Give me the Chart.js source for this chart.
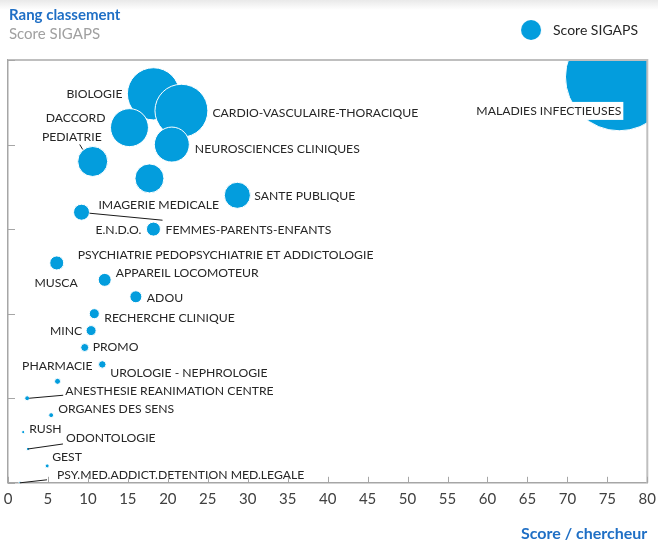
<!DOCTYPE html>
<html>
<head>
<meta charset="utf-8">
<script src="https://cdn.jsdelivr.net/npm/chart.js@4"></script>
<style>
  body { margin: 0; background: linear-gradient(#e9e9e9 0px, #ffffff 10px); font-family: Lato, sans-serif; }
  #wrap { position: relative; width: 658px; height: 545px; }
  #titles { position: absolute; left: 9px; top: 5px; line-height: 19px; font-size: 15px; }
  #titles .main { color: #1f6fc5; font-weight: bold; }
  #titles .sub { color: #a0a0a0; }
  canvas { position: absolute; left: 0; top: 0; }
</style>
</head>
<body>
<div id="wrap">
  <canvas id="chart" width="658" height="545"></canvas>
  <div id="titles">
    <div class="main">Rang classement</div>
    <div class="sub">Score SIGAPS</div>
  </div>
</div>
<script>
// pôles / services
const categories = [
  "MALADIES INFECTIEUSES", "BIOLOGIE", "CARDIO-VASCULAIRE-THORACIQUE", "DACCORD",
  "NEUROSCIENCES CLINIQUES", "PEDIATRIE", "IMAGERIE MEDICALE", "SANTE PUBLIQUE",
  "FEMMES-PARENTS-ENFANTS", "E.N.D.O.", "PSYCHIATRIE PEDOPSYCHIATRIE ET ADDICTOLOGIE", "MUSCA",
  "APPAREIL LOCOMOTEUR", "ADOU", "RECHERCHE CLINIQUE", "MINC", "PROMO",
  "UROLOGIE - NEPHROLOGIE", "PHARMACIE", "ANESTHESIE REANIMATION CENTRE", "ORGANES DES SENS",
  "RUSH", "ODONTOLOGIE", "GEST", "PSY.MED.ADDICT.DETENTION MED.LEGALE"
];
// score / chercheur (axe x)
const scoreParChercheur = [
  76.5, 18.2, 21.7, 15.2, 20.5, 10.6, 17.7, 28.7, 9.2, 18.2, 6.1, 6.1,
  12.1, 16.0, 10.8, 10.4, 9.6, 11.8, 6.2, 2.4, 5.4, 1.9, 2.5, 4.9, 1.5
];
// rang classement (axe y)
const rang = [
  1, 2, 3, 4, 5, 6, 7, 8, 9, 10, 12, 12,
  13, 14, 15, 16, 17, 18, 19, 20, 21, 22, 23, 24, 25
];
// score SIGAPS (taille des bulles)
const scoreSigaps = [
  2900, 680, 700, 360, 306, 225, 210, 170, 64, 49, 49, 49,
  42, 36, 25, 25, 16, 14, 9, 6, 6, 2.5, 2.5, 4, 1.5
];

// position des étiquettes : [dx, dy, alignement, ligne de rappel]
const labelPlacement = [
  [2, 34, "right", null],
  [-31, 0, "right", null],
  [31, 2, "left", null],
  [-24, -10, "right", null],
  [23, 5, "left", null],
  [9, -24, "right", [-10, -12, -13, -17]],
  [-51, 27, "left", null],
  [17, 1, "left", null],
  [84, 18, "left", [8, 1, 81, 8]],
  [-12, 1, "right", null],
  [21, -8, "left", null],
  [21, 20, "right", null],
  [11, -7, "left", null],
  [11, 1, "left", null],
  [10, 4, "left", null],
  [-9, 0, "right", null],
  [8, 0, "left", null],
  [8, 9, "left", null],
  [35, -15, "right", null],
  [38, -7, "left", [2, 0, 36, -3]],
  [7, -6, "left", null],
  [6, -3, "left", null],
  [38, -11, "left", [0, 0, 35, -5]],
  [5, -9, "left", null],
  [37, -8, "left", [0, 0, 27, -3]]
];

const bubbleColor = "#039ddd";

const bubbleData = categories.map((name, i) => ({
  x: scoreParChercheur[i],
  y: rang[i],
  r: Math.sqrt(scoreSigaps[i])
}));

// pastille de légende, décalée vers la gauche
const legendDot = document.createElement("canvas");
legendDot.width = 40;
legendDot.height = 22;
{
  const c = legendDot.getContext("2d");
  c.fillStyle = bubbleColor;
  c.beginPath();
  c.arc(12, 11, 10, 0, Math.PI * 2);
  c.fill();
}

const labelPlugin = {
  id: "bubbleLabels",
  beforeLayout(chart) {
    // laisse de la place entre la légende et la zone du graphique
    const lg = chart.legend;
    if (lg && !lg._extraSpace) {
      const fit = lg.fit.bind(lg);
      lg.fit = function () { fit(); this.height += 13; };
      lg._extraSpace = true;
    }
  },
  afterDatasetsDraw(chart) {
    const ctx = chart.ctx;
    const meta = chart.getDatasetMeta(0);
    ctx.save();
    ctx.font = "12.2px Lato";
    ctx.textBaseline = "middle";
    meta.data.forEach((pt, i) => {
      const [dx, dy, align, line] = labelPlacement[i];
      const tx = pt.x + dx;
      const ty = pt.y + dy;
      if (line) {
        ctx.strokeStyle = "#1a1a1a";
        ctx.lineWidth = 1;
        ctx.beginPath();
        ctx.moveTo(pt.x + line[0], pt.y + line[1]);
        ctx.lineTo(pt.x + line[2], pt.y + line[3]);
        ctx.stroke();
      }
      ctx.textAlign = align;
      if (i === 0) {
        const w = ctx.measureText(categories[i]).width;
        ctx.fillStyle = "#ffffff";
        ctx.fillRect(tx - w - 2, ty - 9, w + 4, 18);
      }
      ctx.fillStyle = "#262626";
      ctx.fillText(categories[i], tx, ty);
    });
    ctx.restore();
  },
  afterDraw(chart) {
    const ctx = chart.ctx;
    const area = chart.chartArea;
    const xs = chart.scales.x;
    const ys = chart.scales.y;
    ctx.save();
    // cadre haut et droit
    ctx.strokeStyle = "#bfbfbf";
    ctx.lineWidth = 2;
    ctx.beginPath();
    ctx.moveTo(area.left, area.top);
    ctx.lineTo(area.right, area.top);
    ctx.lineTo(area.right, area.bottom);
    ctx.stroke();
    // graduations vers l'intérieur
    ctx.strokeStyle = "#a6a6a6";
    ctx.lineWidth = 1;
    ctx.beginPath();
    xs.ticks.forEach((t) => {
      const px = Math.round(xs.getPixelForValue(t.value)) + 0.5;
      ctx.moveTo(px, area.bottom);
      ctx.lineTo(px, area.bottom - 6);
    });
    ys.ticks.forEach((t) => {
      const py = Math.round(ys.getPixelForValue(t.value)) + 0.5;
      ctx.moveTo(area.left, py);
      ctx.lineTo(area.left + 7, py);
    });
    ctx.stroke();
    ctx.restore();
  }
};

new Chart(document.getElementById("chart"), {
  type: "bubble",
  data: {
    datasets: [{
      label: "Score SIGAPS",
      data: bubbleData,
      backgroundColor: bubbleColor,
      borderColor: "#ffffff",
      borderWidth: 1,
      hoverBorderWidth: 1
    }]
  },
  options: {
    responsive: false,
    animation: false,
    layout: { autoPadding: false, padding: { top: 3, left: 8, right: 0, bottom: 0 } },
    plugins: {
      tooltip: { enabled: false },
      legend: {
        position: "top",
        align: "end",
        labels: {
          usePointStyle: true,
          pointStyle: legendDot,
          boxHeight: 13,
          color: "#262626",
          font: { family: "Lato", size: 14 },
          padding: 20
        }
      }
    },
    scales: {
      x: {
        type: "linear",
        min: 0,
        max: 80,
        ticks: { stepSize: 5, color: "#404040", font: { family: "Lato", size: 15 }, padding: 2 },
        grid: { display: false, drawTicks: true, tickLength: 5 },
        border: { color: "#a6a6a6", width: 1.5 },
        title: {
          display: true,
          text: "Score / chercheur",
          align: "end",
          color: "#1f6fc5",
          font: { family: "Lato", size: 16, weight: "bold" },
          padding: { top: 14, bottom: 2 }
        }
      },
      y: {
        type: "linear",
        reverse: true,
        min: 0,
        max: 25,
        ticks: { stepSize: 5, display: false },
        grid: { display: false, drawTicks: false },
        border: { color: "#a6a6a6", width: 1.5 }
      }
    }
  },
  plugins: [labelPlugin]
});
</script>
</body>
</html>
